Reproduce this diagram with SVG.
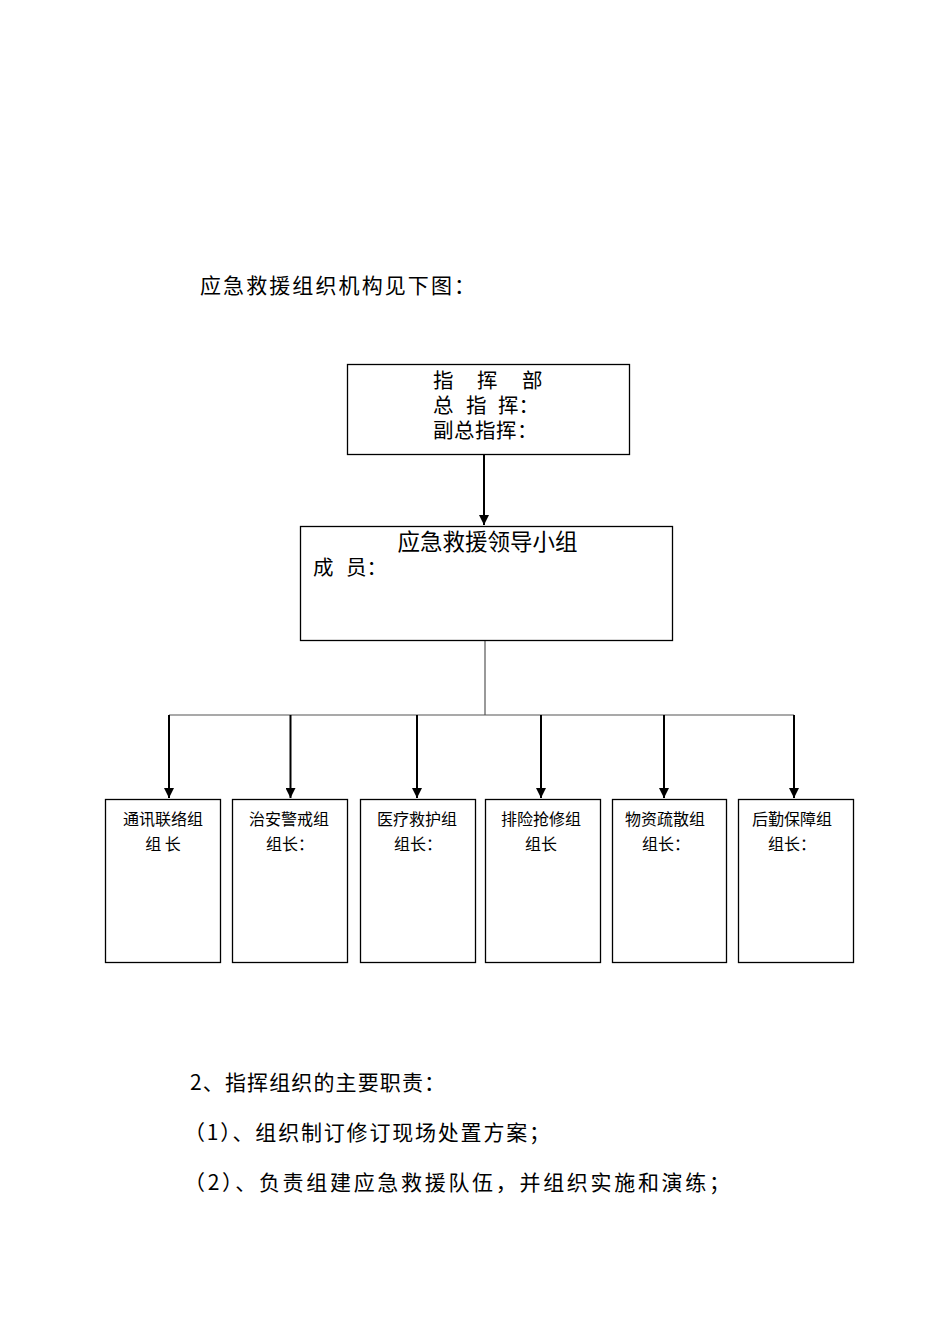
<svg xmlns="http://www.w3.org/2000/svg" width="950" height="1344" viewBox="0 0 950 1344">
<style>
  text { font-family: "Noto Sans CJK SC", "Noto Sans CJK JP", sans-serif; fill: #000; }
  .box { fill: #fff; stroke: #000; stroke-width: 1.3; }
  .thin { stroke: #555; stroke-width: 1.2; fill: none; }
  .arr { stroke: #000; stroke-width: 2; fill: none; marker-end: url(#ah); }
  .body { font-size: 21px; }
  .hd { font-size: 20.5px; }
  .sm { font-size: 16px; text-anchor: middle; }
</style>
<defs>
  <marker id="ah" viewBox="0 0 10 10" refX="10" refY="5" markerWidth="5" markerHeight="5" markerUnits="strokeWidth" orient="auto">
    <path d="M0,0 L10,5 L0,10 Z" fill="#000"/>
  </marker>
</defs>
<rect width="950" height="1344" fill="#fff"/>

<text class="body" x="200" y="293" textLength="275" lengthAdjust="spacing">应急救援组织机构见下图：</text>

<g id="connectors">
  <line class="arr" x1="484" y1="455" x2="484" y2="525"/>
  <line class="thin" x1="485" y1="641" x2="485" y2="715"/>
  <line class="thin" x1="169" y1="715" x2="794" y2="715"/>
  <line class="arr" x1="169" y1="715" x2="169" y2="798"/>
  <line class="arr" x1="290.5" y1="715" x2="290.5" y2="798"/>
  <line class="arr" x1="417" y1="715" x2="417" y2="798"/>
  <line class="arr" x1="541" y1="715" x2="541" y2="798"/>
  <line class="arr" x1="664" y1="715" x2="664" y2="798"/>
  <line class="arr" x1="794" y1="715" x2="794" y2="798"/>
</g>

<g id="node-command">
  <rect class="box" x="347.5" y="364.5" width="282" height="90"/>
  <text class="hd"><tspan x="433 477 522" y="388">指挥部</tspan><tspan x="433 466 498" y="413">总指挥：</tspan><tspan x="433 454 475 496 517" y="438">副总指挥：</tspan></text>
</g>

<g id="node-leader">
  <rect class="box" x="300.5" y="526.5" width="372" height="114"/>
  <text x="487.5" y="550" font-size="22.5" text-anchor="middle">应急救援领导小组</text>
  <text class="hd" x="313 346" y="575">成员：</text>
</g>

<g id="node-comm">
  <rect class="box" x="105.5" y="799.5" width="115" height="163"/>
  <text class="sm" x="163" y="825">通讯联络组</text>
  <text class="sm" x="163" y="850">组 长</text>
</g>
<g id="node-security">
  <rect class="box" x="232.5" y="799.5" width="115" height="163"/>
  <text class="sm" x="289" y="825">治安警戒组</text>
  <text class="sm" x="290" y="850">组长：</text>
</g>
<g id="node-medical">
  <rect class="box" x="360.5" y="799.5" width="115" height="163"/>
  <text class="sm" x="417" y="825">医疗救护组</text>
  <text class="sm" x="418" y="850">组长：</text>
</g>
<g id="node-repair">
  <rect class="box" x="485.5" y="799.5" width="115" height="163"/>
  <text class="sm" x="541" y="825">排险抢修组</text>
  <text class="sm" x="541" y="850">组长</text>
</g>
<g id="node-evac">
  <rect class="box" x="612.5" y="799.5" width="114" height="163"/>
  <text class="sm" x="665" y="825">物资疏散组</text>
  <text class="sm" x="666" y="850">组长：</text>
</g>
<g id="node-logistics">
  <rect class="box" x="738.5" y="799.5" width="115" height="163"/>
  <text class="sm" x="792" y="825">后勤保障组</text>
  <text class="sm" x="792" y="850">组长：</text>
</g>

<text class="body" x="190" y="1090" textLength="255" lengthAdjust="spacing">2、指挥组织的主要职责：</text>
<text class="body" x="184" y="1140" textLength="366" lengthAdjust="spacing">（1）、组织制订修订现场处置方案；</text>
<text class="body" x="184" y="1190" textLength="546" lengthAdjust="spacing">（2）、负责组建应急救援队伍，并组织实施和演练；</text>
</svg>
